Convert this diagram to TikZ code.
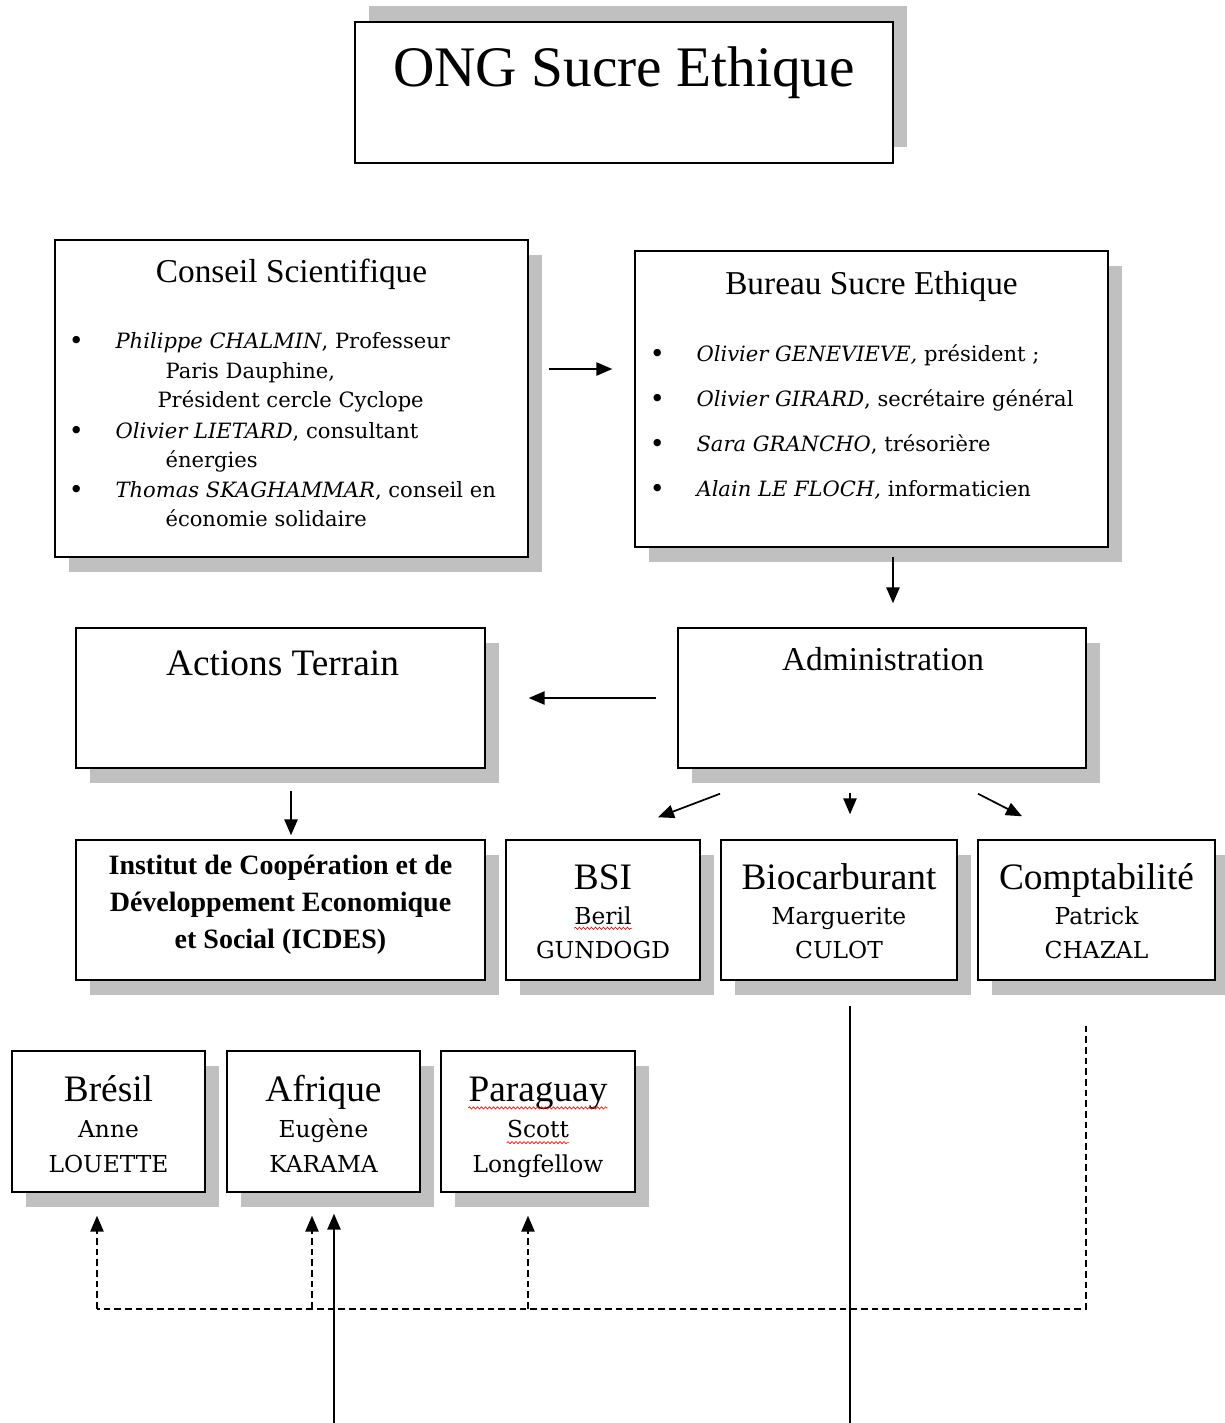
\documentclass[tikz,border=0pt]{standalone}
\usepackage{fontspec}
\setmainfont{Liberation Serif}
\newfontfamily\slabfont{DejaVu Serif}
\usetikzlibrary{calc,arrows.meta,shadows,decorations.pathmorphing}
\definecolor{ink}{HTML}{000000}
\definecolor{shade}{HTML}{C0C0C0}
\definecolor{spell}{HTML}{FF0000}
\tikzset{
  boxframe/.style n args={2}{draw=ink, line width=1.1pt, fill=white, inner sep=0pt,
    minimum width=#1*0.75pt, minimum height=#2*0.75pt},
  box/.style n args={2}{boxframe={#1}{#2},
    drop shadow={shadow xshift=10.5pt, shadow yshift=-11pt, fill=shade, opacity=1}},
  boxup/.style n args={2}{boxframe={#1}{#2},
    drop shadow={shadow xshift=10.5pt, shadow yshift=12pt, fill=shade, opacity=1}},
  txt/.style={inner sep=0pt, anchor=base},
  ongfont/.style={txt, font=\fontsize{43}{50}\selectfont},
  headfont/.style={txt, font=\fontsize{25}{30}\selectfont},
  bigfont/.style={txt, font=\fontsize{28}{33}\selectfont},
  person/.style={txt, font=\slabfont\fontsize{17.5}{21}\selectfont},
  item/.style={inner sep=0pt, anchor=base west, font=\slabfont\fontsize{15.8}{19}\selectfont},
  bul/.style={txt, font=\slabfont\fontsize{19}{21}\selectfont},
  inst/.style={inner sep=0pt, align=center, font=\bfseries\fontsize{21}{27.75}\selectfont},
  arr/.style={draw=ink, line width=1.3pt, -{Triangle[length=12pt, width=10pt]}},
  plainline/.style={draw=ink, line width=1.3pt},
  dsh/.style={draw=ink, line width=1.2pt, dash pattern=on 5pt off 3pt},
  wavy/.style={draw=spell, line width=0.5pt, decorate,
    decoration={snake, amplitude=0.8pt, segment length=3pt}}
}
\begin{document}
\begin{tikzpicture}[x=0.75pt, y=-0.75pt]
  \fill[white] (0,0) rectangle (1224,1423);
  \useasboundingbox (0,0) rectangle (1224,1423);

  % boxes
  \node[boxup={538}{141}] (ong) at (624,92.5) {};
  \node[box={473}{317}] (cs) at (291.5,398.5) {};
  \node[box={473}{296}] (bur) at (871.5,399) {};
  \node[box={409}{140}] (act) at (280.5,698) {};
  \node[box={408}{140}] (adm) at (882,698) {};
  \node[box={409}{140}] (icd) at (280.5,910) {};
  \node[box={194}{140}] (bsi) at (603,910) {};
  \node[box={236}{140}] (bio) at (839,910) {};
  \node[box={237}{140}] (cpt) at (1096.5,910) {};
  \node[box={193}{141}] (bre) at (108.5,1121.5) {};
  \node[box={193}{141}] (afr) at (323.5,1121.5) {};
  \node[box={194}{141}] (par) at (538,1121.5) {};

  % titles
  \node[ongfont] (ongT) at ($(ong.north)+(0,65)$) {ONG Sucre Ethique};
  \node[headfont] (csT) at ($(cs.north)+(0,43)$) {Conseil Scientifique};
  \node[headfont] (burT) at ($(bur.north)+(0,44)$) {Bureau Sucre Ethique};
  \node[bigfont] (actT) at ($(act.north)+(2,48)$) {Actions Terrain};
  \node[headfont] (admT) at ($(adm.north)+(1,43)$) {Administration};
  \node[inst] (icdT) at ($(icd.center)+(0,-5)$)
    {Institut de Coopération et de\\Développement Economique\\et Social (ICDES)};

  % Conseil Scientifique
  \node[bul] (csB1) at ($(cs.north west)+(22,110)$) {•};
  \node[bul] (csB2) at ($(cs.north west)+(22,200)$) {•};
  \node[bul] (csB3) at ($(cs.north west)+(22,259)$) {•};
  \node[item] (cs1) at ($(cs.north west)+(61,109)$) {\textit{Philippe CHALMIN}, Professeur};
  \node[item] (cs2) at ($(cs.north west)+(111,139)$) {Paris Dauphine,};
  \node[item] (cs3) at ($(cs.north west)+(103,168)$) {Président cercle Cyclope};
  \node[item] (cs4) at ($(cs.north west)+(61,199)$) {\textit{Olivier LIETARD}, consultant};
  \node[item] (cs5) at ($(cs.north west)+(111,228)$) {énergies};
  \node[item] (cs6) at ($(cs.north west)+(61,258)$) {\textit{Thomas SKAGHAMMAR}, conseil en};
  \node[item] (cs7) at ($(cs.north west)+(111,287)$) {économie solidaire};

  % Bureau
  \node[bul] (burB1) at ($(bur.north west)+(23,112)$) {•};
  \node[bul] (burB2) at ($(bur.north west)+(23,157)$) {•};
  \node[bul] (burB3) at ($(bur.north west)+(23,202)$) {•};
  \node[bul] (burB4) at ($(bur.north west)+(23,247)$) {•};
  \node[item] (bur1) at ($(bur.north west)+(62,111)$) {\textit{Olivier GENEVIEVE,} président ;};
  \node[item] (bur2) at ($(bur.north west)+(62,156)$) {\textit{Olivier GIRARD}, secrétaire général};
  \node[item] (bur3) at ($(bur.north west)+(62,201)$) {\textit{Sara GRANCHO}, trésorière};
  \node[item] (bur4) at ($(bur.north west)+(62,246)$) {\textit{Alain LE FLOCH,} informaticien};

  % services
  \node[bigfont] (bsiT) at ($(bsi.north)+(0,50)$) {BSI};
  \node[person] (bsiN1) at ($(bsi.north)+(0,85)$) {Beril};
  \node[person] (bsiN2) at ($(bsi.north)+(0,119)$) {GUNDOGD};
  \node[bigfont] (bioT) at ($(bio.north)+(0,50)$) {Biocarburant};
  \node[person] (bioN1) at ($(bio.north)+(0,85)$) {Marguerite};
  \node[person] (bioN2) at ($(bio.north)+(0,119)$) {CULOT};
  \node[bigfont] (cptT) at ($(cpt.north)+(0,50)$) {Comptabilité};
  \node[person] (cptN1) at ($(cpt.north)+(0,85)$) {Patrick};
  \node[person] (cptN2) at ($(cpt.north)+(0,119)$) {CHAZAL};

  % pays
  \node[bigfont] (breT) at ($(bre.north)+(0,51)$) {Brésil};
  \node[person] (breN1) at ($(bre.north)+(0,87)$) {Anne};
  \node[person] (breN2) at ($(bre.north)+(0,122)$) {LOUETTE};
  \node[bigfont] (afrT) at ($(afr.north)+(0,51)$) {Afrique};
  \node[person] (afrN1) at ($(afr.north)+(0,87)$) {Eugène};
  \node[person] (afrN2) at ($(afr.north)+(0,122)$) {KARAMA};
  \node[bigfont] (parT) at ($(par.north)+(0,51)$) {Paraguay};
  \node[person] (parN1) at ($(par.north)+(0,87)$) {Scott};
  \node[person] (parN2) at ($(par.north)+(0,122)$) {Longfellow};

  \draw[wavy] ([yshift=-3pt]bsiN1.base west) -- ([yshift=-3pt]bsiN1.base east);
  \draw[wavy] ([yshift=-5pt]parT.base west) -- ([yshift=-5pt]parT.base east);
  \draw[wavy] ([yshift=-4pt]parN1.base west) -- ([yshift=-4pt]parN1.base east);

  % connectors
  \draw[arr] ($(cs.east)+(20,-29.5)$) -- ($(bur.west)+(-22,-30)$);
  \draw[arr] ($(bur.south)+(21.5,9)$) -- ($(adm.north)+(11,-24)$);
  \draw[arr] ($(adm.west)+(-21,0)$) -- ($(act.east)+(43,0)$);
  \draw[arr] ($(act.south)+(10.5,22)$) -- ($(icd.north)+(10.5,-4)$);
  \draw[arr] ($(adm.south)+(-162,25)$) -- ($(bsi.north)+(55,-22)$);
  \draw[arr] ($(adm.south)+(-32,24)$) -- ($(bio.north)+(11,-25)$);
  \draw[arr] ($(adm.south)+(96,25)$) -- ($(cpt.north)+(-74.5,-23)$);

  \coordinate (bioEnd) at (850,1423);
  \coordinate (afrEnd) at (334,1423);
  \draw[plainline] ($(bio.south)+(11,25)$) -- (bioEnd);
  \draw[arr] (afrEnd) -- ($(afr.south)+(10.5,21)$);

  \draw[dsh] ($(cpt.south)+(-10.5,45)$) |- ($(bre.south)+(-11.5,116)$);
  \draw[dsh,arr,line width=1.2pt] ($(bre.south)+(-11.5,116)$) -- ($(bre.south)+(-11.5,23)$);
  \draw[dsh,arr,line width=1.2pt] ($(afr.south)+(-11.5,116)$) -- ($(afr.south)+(-11.5,23)$);
  \draw[dsh,arr,line width=1.2pt] ($(par.south)+(-10,116)$) -- ($(par.south)+(-10,23)$);
\end{tikzpicture}
\end{document}
